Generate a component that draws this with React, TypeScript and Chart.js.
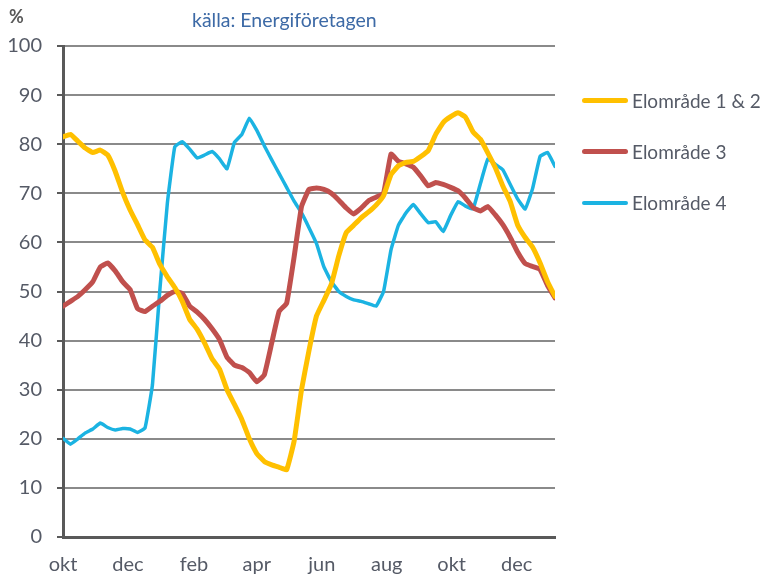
import React, { useEffect, useRef } from "react";
import { Chart, registerables } from "chart.js";

Chart.register(...registerables);

// Weekly fill level (%) from early October through the following year's end
const elomrade12 = [
  81.5, 82.0, 80.6, 79.2, 78.3, 78.8, 77.8, 74.5, 70.2, 66.6,
  63.6, 60.5, 59.0, 55.5, 53.0, 50.8, 48.0, 44.3, 42.3, 39.5,
  36.3, 34.2, 30.0, 27.0, 23.9, 20.0, 17.0, 15.4, 14.7, 14.2,
  13.7, 19.5, 30.0, 38.0, 45.0, 48.2, 51.5, 57.3, 62.0, 63.5,
  65.0, 66.2, 67.6, 69.5, 73.8, 75.6, 76.3, 76.5, 77.5, 78.7,
  82.0, 84.4, 85.6, 86.4, 85.5, 82.5, 81.0, 78.2, 75.2, 71.5,
  68.3, 63.5, 61.0, 59.0, 55.8, 52.0, 49.0,
];
const elomrade3 = [
  47.0, 48.0, 49.0, 50.4, 52.0, 55.0, 55.8, 54.2, 52.0, 50.4,
  46.5, 45.9, 47.0, 48.0, 49.2, 50.0, 49.6, 47.0, 45.8, 44.3,
  42.4, 40.2, 36.6, 35.0, 34.5, 33.5, 31.6, 33.0, 39.5, 46.0,
  47.6, 57.0, 67.3, 70.8, 71.1, 70.8, 70.0, 68.6, 67.0, 65.8,
  67.0, 68.5, 69.2, 70.0, 78.0, 76.5, 76.0, 75.3, 73.5, 71.5,
  72.2, 71.8, 71.2, 70.5, 69.0, 67.1, 66.4, 67.3, 65.6, 63.6,
  61.0, 58.0, 55.7, 55.1, 54.5, 51.2, 48.7,
];
const elomrade4 = [
  20.1, 18.9, 20.0, 21.2, 22.0, 23.2, 22.3, 21.8, 22.1, 22.0,
  21.3, 22.2, 31.0, 50.5, 68.0, 79.5, 80.5, 79.0, 77.2, 77.8,
  78.5, 77.0, 75.0, 80.4, 82.0, 85.3, 82.8, 79.7, 76.8, 74.0,
  71.2, 68.4, 66.0, 63.0, 59.8, 55.0, 52.0, 50.0, 49.0, 48.3,
  48.0, 47.5, 47.0, 50.0, 58.5, 63.5, 66.0, 67.7, 65.8, 64.0,
  64.2, 62.2, 65.5, 68.3, 67.4, 66.8, 72.0, 77.0, 75.9, 74.8,
  71.8, 68.8, 66.8, 71.0, 77.5, 78.3, 75.5,
];

const seriesLabels = ["Elområde 1 & 2", "Elområde 3", "Elområde 4"];
const seriesColors = ["#FFC000", "#C0504D", "#1BB3E2"];
const seriesWidths = [5, 5, 3.5];

// Month ticks, positioned in weeks from the start (1 okt)
const monthTickWeeks = [0, 8.71, 17.57, 26, 34.71, 43.43, 52.14, 60.86];
const monthTickLabels = ["okt", "dec", "feb", "apr", "jun", "aug", "okt", "dec"];

const FONT = "Lato, 'Open Sans', sans-serif";

export default function App() {
  const ref = useRef<HTMLCanvasElement>(null);

  useEffect(() => {
    const all = [elomrade12, elomrade3, elomrade4];
    const chart = new Chart(ref.current!, {
      type: "line",
      data: {
        datasets: all.map((vals, k) => ({
          label: seriesLabels[k],
          data: vals.map((v, i) => ({ x: i, y: v })),
          borderColor: seriesColors[k],
          backgroundColor: seriesColors[k],
          borderWidth: seriesWidths[k],
          pointRadius: 0,
          tension: 0.1,
          borderJoinStyle: "round" as const,
          borderCapStyle: "round" as const,
        })),
      },
      options: {
        animation: false,
        responsive: false,
        maintainAspectRatio: false,
        layout: { padding: { left: 0, right: 209, top: 46, bottom: 0 } },
        plugins: {
          legend: { display: false },
          tooltip: { enabled: false },
          title: { display: false },
        },
        scales: {
          x: {
            type: "linear",
            min: 0,
            max: elomrade12.length - 1,
            afterBuildTicks: (ax: any) => {
              ax.ticks = monthTickWeeks.map((v) => ({ value: v }));
            },
            afterFit: (ax: any) => {
              ax.height = 38;
            },
            ticks: {
              autoSkip: false,
              maxRotation: 0,
              padding: 8,
              color: "#555a66",
              font: { family: FONT, size: 20 },
              callback: (_v: any, i: number) => monthTickLabels[i],
            },
            grid: { display: false },
            border: { display: true, color: "#595959", width: 3 },
          },
          y: {
            min: 0,
            max: 100,
            afterFit: (ax: any) => {
              ax.width = 63;
            },
            ticks: {
              stepSize: 10,
              padding: 15,
              color: "#555a66",
              font: { family: FONT, size: 20 },
            },
            grid: {
              color: "#8a8a8a",
              lineWidth: 2,
              tickLength: 6,
              tickColor: "#595959",
            },
            border: { display: true, color: "#595959", width: 3 },
          },
        },
      },
    });
    return () => chart.destroy();
  }, []);

  const legendY = [101, 152, 203];

  return (
    <div style={{ position: "absolute", left: 0, top: 0, width: 764, height: 575, background: "#fff" }}>
      <canvas ref={ref} width={764} height={575} style={{ display: "block" }} />
      <div
        style={{
          position: "absolute",
          left: 9,
          top: 5,
          fontFamily: FONT,
          fontSize: 18,
          fontWeight: 700,
          color: "#595959",
        }}
      >
        %
      </div>
      <div
        style={{
          position: "absolute",
          left: 192,
          top: 8,
          fontFamily: FONT,
          fontSize: 19.5,
          color: "#3D6AA6",
          whiteSpace: "nowrap",
        }}
      >
        källa: Energiföretagen
      </div>
      {seriesLabels.map((lab, k) => (
        <React.Fragment key={lab}>
          <div
            style={{
              position: "absolute",
              left: 582,
              top: legendY[k] - Math.round(seriesWidths[k] / 2),
              width: 46,
              height: seriesWidths[k],
              borderRadius: 3,
              background: seriesColors[k],
            }}
          />
          <div
            style={{
              position: "absolute",
              left: 632,
              top: legendY[k] - 12,
              fontFamily: FONT,
              fontSize: 19,
              lineHeight: "24px",
              color: "#555a66",
              whiteSpace: "nowrap",
            }}
          >
            {lab}
          </div>
        </React.Fragment>
      ))}
    </div>
  );
}
